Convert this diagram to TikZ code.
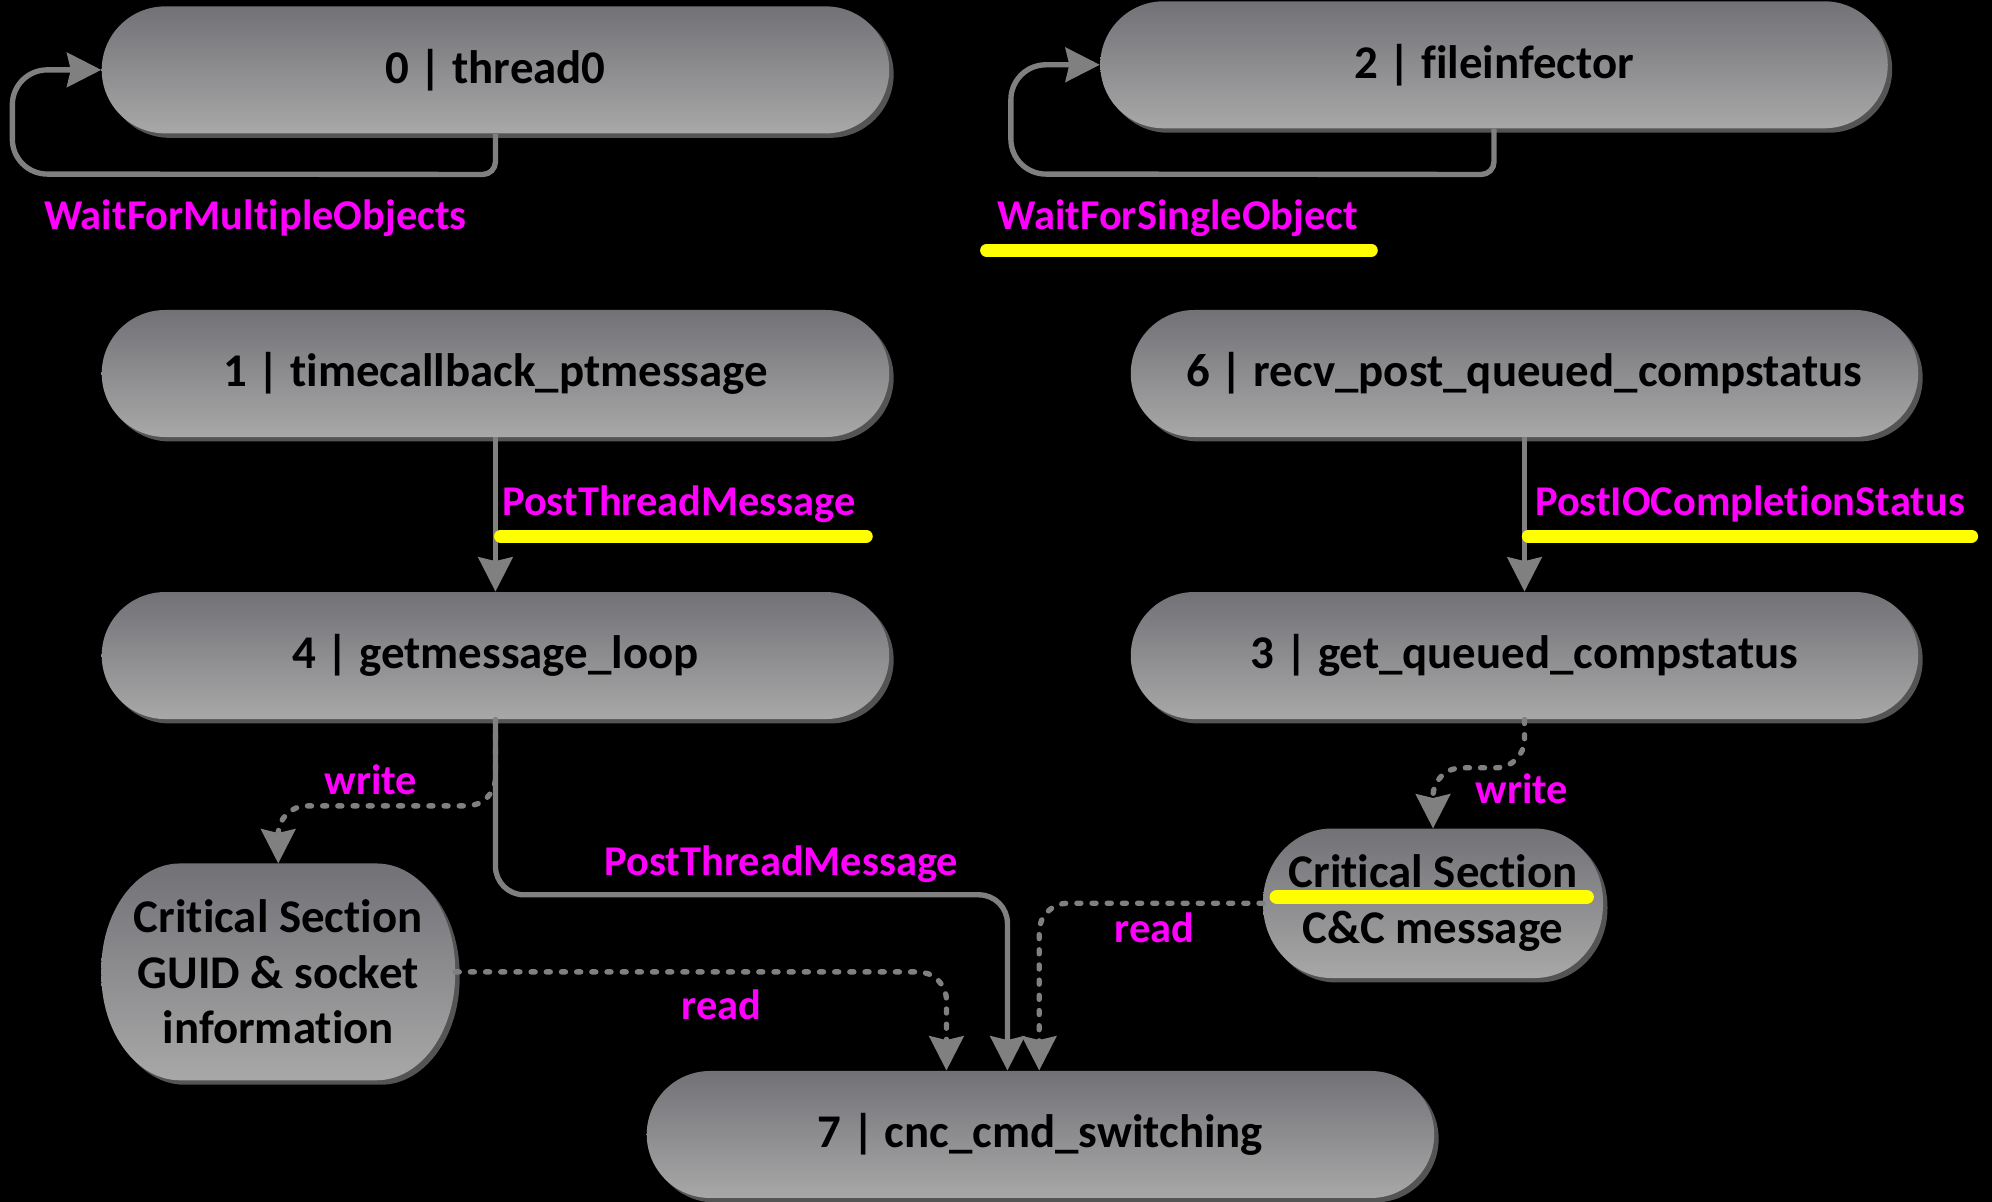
\documentclass[tikz,border=0pt]{standalone}
\usepackage{fontspec}
\setmainfont{Carlito}[Ligatures=NoCommon]
\usetikzlibrary{arrows.meta,shadows,calc}

\definecolor{boxtop}{RGB}{114,113,118}
\definecolor{boxbot}{RGB}{168,168,168}
\definecolor{boxshadow}{RGB}{84,84,84}
\definecolor{linkgray}{RGB}{128,128,128}
\definecolor{apicol}{RGB}{255,0,255}
\definecolor{marker}{RGB}{255,255,0}

\pgfdeclarelayer{bg}
\pgfsetlayers{bg,main}

\tikzset{
  boxfill/.style={top color=boxtop, bottom color=boxbot,
    drop shadow={shadow xshift=0.07cm, shadow yshift=-0.07cm, fill=boxshadow, opacity=1}},
  box/.style={rectangle, rounded corners=1cm, minimum width=12.4cm, minimum height=2cm,
    boxfill, draw=none, text=black, align=center,
    font=\fontsize{21}{25}\selectfont\bfseries},
  csbox/.style={rectangle, draw=none, fill=none, text=black, align=center,
    font=\fontsize{21}{25}\selectfont\bfseries},
  api/.style={text=apicol, inner sep=0pt, font=\fontsize{19}{22}\selectfont\bfseries},
  tip/.style={-{Stealth[length=0.54cm, width=0.54cm, inset=0.06cm]}},
  link/.style={draw=linkgray, line width=2.4pt, rounded corners=0.45cm, tip},
  shared/.style={link, line cap=round, dash pattern=on 1.8pt off 5pt},
  hl/.style={draw=marker, line width=5.8pt, line cap=round}
}

% shaded body with elliptical corners behind a node: name, x radius, y radius
\newcommand\ovalbody[3]{%
  \shade[boxfill]
    ($(#1.north west)+(#2,0)$) -- ($(#1.north east)+(-#2,0)$)
    arc[start angle=90, end angle=0, x radius=#2*0.02cm, y radius=#3*0.02cm]
    -- ($(#1.south east)+(0,-#3)$)
    arc[start angle=0, end angle=-90, x radius=#2*0.02cm, y radius=#3*0.02cm]
    -- ($(#1.south west)+(#2,0)$)
    arc[start angle=270, end angle=180, x radius=#2*0.02cm, y radius=#3*0.02cm]
    -- ($(#1.north west)+(0,#3)$)
    arc[start angle=180, end angle=90, x radius=#2*0.02cm, y radius=#3*0.02cm]
    -- cycle;}

\begin{document}
\begin{tikzpicture}[x=0.02cm, y=-0.02cm]
  % canvas
  \begin{pgfonlayer}{bg}
    \fill[black] (0,0) rectangle (1568,946);
  \end{pgfonlayer}
  \useasboundingbox (0,0) rectangle (1568,946);

  % threads
  \node[box] (n0) at (390,55)  {0 | thread0};
  \node[box] (n2) at (1176,51) {2 | fileinfector};
  \node[box] (n1) at (390,294) {1 | timecallback\_ptmessage};
  \node[box] (n6) at (1200,294) {6 | recv\_post\_queued\_compstatus};
  \node[box] (n4) at (390,516) {4 | getmessage\_loop};
  \node[box] (n3) at (1200,516) {3 | get\_queued\_compstatus};
  \node[box] (n7) at (819,893) {7 | cnc\_cmd\_switching};

  % critical sections
  \node[csbox, minimum width=5.56cm, minimum height=3.4cm] (cs1) at (219,765)
    {Critical Section\\GUID \& socket\\information};
  \node[csbox, minimum width=5.34cm, minimum height=2.34cm] (cs2) at (1128,711)
    {Critical Section\\C\&C message};
  \begin{pgfonlayer}{bg}
    \ovalbody{cs1}{62}{84}
    \ovalbody{cs2}{54}{58}
  \end{pgfonlayer}

  % self loops
  \draw[link] (n0.south) [rounded corners=0.2cm] -- ++(0,32) [rounded corners=0.55cm]
    -- ($(n0.west)+(-70,82)$) -- ($(n0.west)+(-70,0)$) -- (n0.west);
  \draw[link] (n2.south) [rounded corners=0.2cm] -- ++(0,36) [rounded corners=0.55cm]
    -- ($(n2.west)+(-70,86)$) -- ($(n2.west)+(-70,0)$) -- (n2.west);

  % messages
  \draw[link] (n1.south) -- (n4.north);
  \draw[link] (n6.south) -- (n3.north);
  \draw[link] (n4.south) -- ++(0,138) -| ($(n7.north)+(-26,0)$);

  % shared memory access
  \draw[shared] (n4.south) -- ++(0,68) -| (cs1.north);
  \draw[shared] (n3.south) -- ++(0,38) -| (cs2.north);
  \draw[shared] (cs1.east) -| ($(n7.north)+(-74,0)$);
  \draw[shared] (cs2.west) -| ($(n7.north)+(-1,0)$);

  % API labels
  \node[api] (l0) at (201,172) {WaitForMultipleObjects};
  \node[api] (l2) at (927,172) {WaitForSingleObject};
  \node[api, anchor=west] (l1) at (395,397) {PostThreadMessage};
  \node[api, anchor=west] (l6) at (1208,397) {PostIOCompletionStatus};
  \node[api] (w1) at (292,614) {write};
  \node[api] (p4) at (615,680) {PostThreadMessage};
  \node[api] (r1) at (568,791) {read};
  \node[api] (w2) at (1198,621) {write};
  \node[api] (r2) at (909,730) {read};

  % highlights
  \draw[hl] ($(l2.west)+(-8,25)$) -- ($(l2.east)+(10,25)$);
  \draw[hl] ($(l1.west)+(-1,25)$) -- ($(l1.east)+(8,25)$);
  \draw[hl] ($(l6.west)+(-5,25)$) -- ($(l6.east)+(5,25)$);
  \draw[hl, line width=6.6pt] ($(cs2.west)+(11,-5)$) -- ($(cs2.east)+(-13,-5)$);
\end{tikzpicture}
\end{document}
